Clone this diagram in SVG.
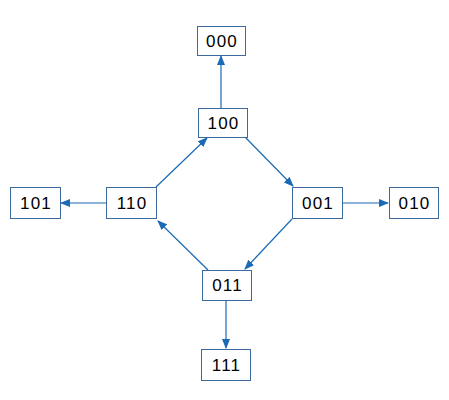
<svg xmlns="http://www.w3.org/2000/svg" width="449" height="400" viewBox="0 0 449 400">
<style>
.box{fill:#fff;stroke:#3d6a9e;stroke-width:1}
.lbl{font-family:"Liberation Sans",Arial,sans-serif;font-size:17px;letter-spacing:1.2px;fill:#000;text-anchor:middle;dominant-baseline:central}
.edge{stroke:#1a6ab5;stroke-width:1.2;fill:none;marker-end:url(#ah)}
</style>
<defs>
<marker id="ah" markerWidth="10" markerHeight="8" refX="9" refY="4" orient="auto" markerUnits="userSpaceOnUse">
<path d="M0,0 L10,4 L0,8 Z" fill="#1a6ab5"/>
</marker>
</defs>
<g id="connectors">
<line class="edge" x1="221" y1="108" x2="221" y2="56"/>
<line class="edge" x1="245" y1="137" x2="293" y2="186"/>
<line class="edge" x1="156" y1="187" x2="207" y2="138"/>
<line class="edge" x1="106" y1="203" x2="61" y2="203"/>
<line class="edge" x1="343" y1="203" x2="388" y2="203"/>
<line class="edge" x1="292" y1="219" x2="245" y2="269"/>
<line class="edge" x1="208" y1="270" x2="158" y2="221"/>
<line class="edge" x1="226" y1="301" x2="226" y2="348"/>
</g>
<g id="n000"><rect class="box" x="197.5" y="26.5" width="48" height="29"/><text class="lbl" x="222" y="41">000</text></g>
<g id="n100"><rect class="box" x="198.5" y="108.5" width="49" height="29"/><text class="lbl" x="223.5" y="123">100</text></g>
<g id="n101"><rect class="box" x="10.5" y="187.5" width="50" height="31"/><text class="lbl" x="36" y="203">101</text></g>
<g id="n110"><rect class="box" x="106.5" y="187.5" width="50" height="31"/><text class="lbl" x="132" y="203">110</text></g>
<g id="n001"><rect class="box" x="292.5" y="187.5" width="50" height="31"/><text class="lbl" x="318" y="203">001</text></g>
<g id="n010"><rect class="box" x="389.5" y="187.5" width="49" height="31"/><text class="lbl" x="414.5" y="203">010</text></g>
<g id="n011"><rect class="box" x="202.5" y="270.5" width="49" height="30"/><text class="lbl" x="227.5" y="285.5">011</text></g>
<g id="n111"><rect class="box" x="201.5" y="349.5" width="49" height="31"/><text class="lbl" x="226.5" y="365">111</text></g>
</svg>
